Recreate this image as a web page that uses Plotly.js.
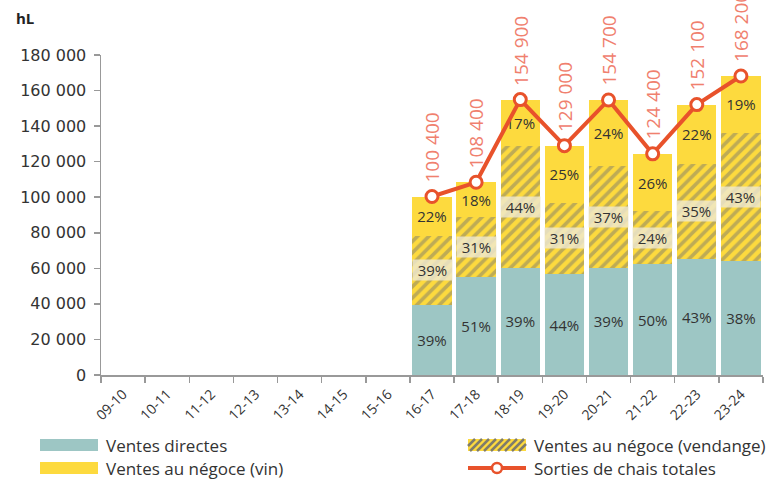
<!DOCTYPE html>
<html>
<head>
<meta charset="utf-8">
<script src="https://cdn.plot.ly/plotly-3.0.1.min.js"></script>
<style>
  html, body { margin: 0; padding: 0; background: #fff; }
  #chart { width: 776px; height: 483px; }
</style>
</head>
<body>
<div id="chart"></div>
<script>
// ---- Data (hL) ----
const categories = ['09-10','10-11','11-12','12-13','13-14','14-15','15-16','16-17','17-18','18-19','19-20','20-21','21-22','22-23','23-24'];
const ventesDirectes   = [0,0,0,0,0,0,0, 39200, 55300, 60400, 56800, 60300, 62200, 65400, 63900];
const ventesVendange   = [0,0,0,0,0,0,0, 39200, 33600, 68200, 40000, 57200, 29900, 53200, 72300];
const ventesVin        = [0,0,0,0,0,0,0, 22000, 19500, 26300, 32200, 37200, 32300, 33500, 32000];
const sortiesTotales   = [null,null,null,null,null,null,null, 100400, 108400, 154900, 129000, 154700, 124400, 152100, 168200];
const pctDirectes      = [null,null,null,null,null,null,null, '39%','51%','39%','44%','39%','50%','43%','38%'];
const pctVendange      = [null,null,null,null,null,null,null, '39%','31%','44%','31%','37%','24%','35%','43%'];
const pctVin           = [null,null,null,null,null,null,null, '22%','18%','17%','25%','24%','26%','22%','19%'];
const totalLabels      = [null,null,null,null,null,null,null, '100 400','108 400','154 900','129 000','154 700','124 400','152 100','168 200'];
const legendNames      = ['Ventes directes', 'Ventes au négoce (vendange)', 'Ventes au négoce (vin)', 'Sorties de chais totales'];

const FONT = 'Open Sans, DejaVu Sans, sans-serif';
const TEAL = '#9DC6C4';
const YELLOW = '#FDDA3E';
const HATCH = '#7F7C6C';
const RED = '#E8522B';

const L = 101, R = 13, T = 55, B = 108;
const W = 776, H = 483;
const pw = W - L - R, ph = H - T - B;
const px = v => (v - L) / pw;          // page px -> paper x
const py = v => (H - B - v) / ph;      // page px -> paper y

const traces = [
  {
    type: 'bar', name: legendNames[0], x: categories, y: ventesDirectes,
    marker: { color: TEAL, line: { width: 0 } },
    text: pctDirectes, textposition: 'inside', insidetextanchor: 'middle',
    textfont: { family: FONT, size: 15, color: '#333' }, hoverinfo: 'skip'
  },
  {
    type: 'bar', name: legendNames[1], x: categories, y: ventesVendange,
    marker: { color: YELLOW, line: { width: 0 },
      pattern: { shape: '/', bgcolor: YELLOW, fgcolor: HATCH, size: 8, solidity: 0.45, fillmode: 'overlay' } },
    hoverinfo: 'skip'
  },
  {
    type: 'bar', name: legendNames[2], x: categories, y: ventesVin,
    marker: { color: YELLOW, line: { width: 0 } },
    text: pctVin, textposition: 'inside', insidetextanchor: 'middle',
    textfont: { family: FONT, size: 15, color: '#333' }, hoverinfo: 'skip'
  },
  {
    type: 'scatter', mode: 'lines+markers', name: legendNames[3],
    x: categories, y: sortiesTotales,
    line: { color: RED, width: 4 },
    marker: { symbol: 'circle', size: 12, color: '#fff', line: { color: RED, width: 3 } },
    hoverinfo: 'skip'
  }
];

const annotations = [];
categories.forEach((c, i) => {
  if (pctVendange[i]) {
    annotations.push({
      x: c, y: ventesDirectes[i] + ventesVendange[i] / 2, xref: 'x', yref: 'y',
      text: pctVendange[i], showarrow: false, width: 39, height: 20,
      bgcolor: 'rgba(238,232,208,0.82)', borderpad: 0,
      font: { family: FONT, size: 15, color: '#333' }
    });
  }
  if (totalLabels[i]) {
    annotations.push({
      x: c, y: sortiesTotales[i], xref: 'x', yref: 'y',
      text: totalLabels[i], showarrow: false, textangle: -90,
      yanchor: 'bottom', yshift: 12,
      font: { family: FONT, size: 19, color: '#F0806E' }
    });
  }
});
annotations.push({
  x: px(14), y: py(18), xref: 'paper', yref: 'paper', text: '<b>hL</b>',
  showarrow: false, xanchor: 'left', yanchor: 'middle', font: { family: FONT, size: 15, color: '#222' }
});

// ---- custom legend ----
const shapes = [];
const legFont = { family: FONT, size: 17, color: '#333' };
const legItems = [
  { sx: 40, cy: 445, name: legendNames[0], kind: 'teal' },
  { sx: 468, cy: 445, name: legendNames[1], kind: 'hatch' },
  { sx: 40, cy: 468, name: legendNames[2], kind: 'yellow' },
  { sx: 468, cy: 468, name: legendNames[3], kind: 'line' }
];
const SW = 58, SH = 12;
legItems.forEach(it => {
  const x0 = it.sx, x1 = it.sx + SW, y0 = it.cy - SH / 2, y1 = it.cy + SH / 2;
  if (it.kind === 'teal' || it.kind === 'yellow' || it.kind === 'hatch') {
    shapes.push({ type: 'rect', xref: 'paper', yref: 'paper', x0: px(x0), x1: px(x1), y0: py(y1), y1: py(y0),
      fillcolor: it.kind === 'teal' ? TEAL : YELLOW, line: { width: 0 } });
  }
  if (it.kind === 'hatch') {
    for (let k = x0 - SH; k < x1; k += 7) {
      let ax = k, ay = y1, bx = k + SH, by = y0;
      if (ax < x0) { ay = y1 - (x0 - ax); ax = x0; }
      if (bx > x1) { by = y0 + (bx - x1); bx = x1; }
      if (bx <= ax) continue;
      shapes.push({ type: 'line', xref: 'paper', yref: 'paper', x0: px(ax), y0: py(ay), x1: px(bx), y1: py(by),
        line: { color: HATCH, width: 2.5 } });
    }
  }
  if (it.kind === 'line') {
    shapes.push({ type: 'line', xref: 'paper', yref: 'paper', x0: px(x0), x1: px(x1), y0: py(it.cy), y1: py(it.cy),
      line: { color: RED, width: 4 } });
    const cx = (x0 + x1) / 2, r = 5;
    shapes.push({ type: 'circle', xref: 'paper', yref: 'paper', x0: px(cx - r), x1: px(cx + r), y0: py(it.cy + r), y1: py(it.cy - r),
      fillcolor: '#fff', line: { color: RED, width: 2.5 } });
  }
  annotations.push({ x: px(x1 + 6), y: py(it.cy), xref: 'paper', yref: 'paper', text: it.name,
    showarrow: false, xanchor: 'left', yanchor: 'middle', font: legFont });
});

const layout = {
  width: W, height: H,
  margin: { l: L, r: R, t: T, b: B, autoexpand: false },
  paper_bgcolor: '#fff', plot_bgcolor: '#fff',
  barmode: 'stack', bargap: 0.11,
  separators: ', ',
  font: { family: FONT, color: '#333' },
  showlegend: false,
  xaxis: {
    type: 'category', range: [-0.5, 14.5],
    showline: true, linecolor: '#999', linewidth: 1.5,
    ticks: 'outside', tickson: 'boundaries', ticklen: 6, tickcolor: '#999', tickwidth: 1.5,
    ticklabelstandoff: 4,
    tickangle: -45, tickfont: { family: FONT, size: 14, color: '#333' },
    showgrid: false, zeroline: false, fixedrange: true, automargin: false
  },
  yaxis: {
    range: [0, 180000], dtick: 20000, tickformat: ',d',
    showline: true, linecolor: '#999', linewidth: 1.5,
    ticks: 'outside', ticklen: 6, tickcolor: '#999', tickwidth: 1.5,
    ticklabelstandoff: 4,
    tickfont: { family: 'DejaVu Sans, sans-serif', size: 16, color: '#333' },
    showgrid: false, zeroline: false, fixedrange: true, automargin: false
  },
  shapes: shapes,
  annotations: annotations
};

Plotly.newPlot('chart', traces, layout, { staticPlot: true, displayModeBar: false });
</script>
</body>
</html>
